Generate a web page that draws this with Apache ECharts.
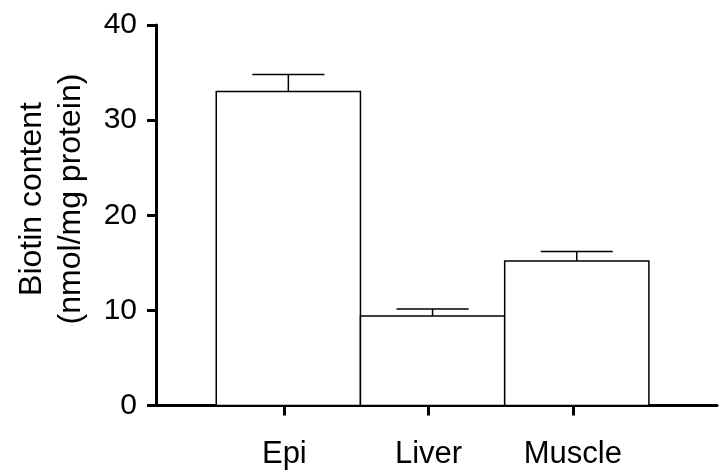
<!DOCTYPE html>
<html>
<head>
<meta charset="utf-8">
<script src="https://cdn.jsdelivr.net/npm/echarts@6/dist/echarts.min.js"></script>
<style>
html,body{margin:0;padding:0;background:#fff;}
#chart{width:719px;height:472px;}
</style>
</head>
<body>
<div id="chart"></div>
<script>
const categories = ['Epi', 'Liver', 'Muscle'];
const means = [33, 9.4, 15.2];
const errors = [1.8, 0.75, 1.0];
const yTicks = [0, 10, 20, 30, 40];
const titleLines = ['Biotin content', '(nmol/mg protein)'];

const positions = categories.map((c, i) => i + 1);
const seriesData = categories.map((c, i) => [positions[i], means[i], errors[i]]);

const FONT = '"Liberation Sans", Arial, Helvetica, sans-serif';
const chart = echarts.init(document.getElementById('chart'), null, {renderer: 'canvas'});

const option = {
  animation: false,
  backgroundColor: '#fff',
  grid: {left: 156, right: 2, top: 25, bottom: 66.5, containLabel: false},
  xAxis: {
    type: 'value',
    min: 0.11,
    max: 4,
    splitLine: {show: false},
    axisLine: {show: true, onZero: false, lineStyle: {color: '#000', width: 3}},
    axisTick: {show: true, customValues: positions, length: 10, lineStyle: {color: '#000', width: 3}},
    axisLabel: {
      show: true,
      customValues: positions,
      margin: 33,
      color: '#000',
      fontFamily: FONT,
      fontSize: 31,
      formatter: v => categories[Math.round(v) - 1] || ''
    }
  },
  yAxis: {
    type: 'value',
    min: yTicks[0],
    max: yTicks[yTicks.length - 1],
    interval: 10,
    splitLine: {show: false},
    axisLine: {show: true, lineStyle: {color: '#000', width: 3}},
    axisTick: {show: true, length: 9, lineStyle: {color: '#000', width: 3}},
    axisLabel: {color: '#000', fontFamily: FONT, fontSize: 30, margin: 19}
  },
  graphic: [{
    type: 'text',
    x: 52,
    y: 199,
    rotation: Math.PI / 2,
    style: {
      text: titleLines.join('\n'),
      fontFamily: FONT,
      fontSize: 32,
      lineHeight: 39,
      fill: '#000',
      align: 'center',
      verticalAlign: 'middle'
    }
  }],
  series: [{
    type: 'custom',
    data: seriesData,
    encode: {x: 0, y: 1},
    renderItem: function (params, api) {
      const x = api.value(0), v = api.value(1), e = api.value(2);
      const base = api.coord([x, 0]);
      const top = api.coord([x, v]);
      const errTop = api.coord([x, v + e]);
      const w = api.size([1, 0])[0];
      const shift = 4;
      const cx = base[0] + shift;
      return {
        type: 'group',
        children: [
          {
            type: 'rect',
            shape: {x: cx - w / 2, y: top[1], width: w, height: base[1] - top[1]},
            style: {fill: '#fff', stroke: '#000', lineWidth: 1.5}
          },
          {
            type: 'line',
            shape: {x1: cx, y1: top[1], x2: cx, y2: errTop[1]},
            style: {stroke: '#000', lineWidth: 1.5}
          },
          {
            type: 'line',
            shape: {x1: cx - w / 4, y1: errTop[1], x2: cx + w / 4, y2: errTop[1]},
            style: {stroke: '#000', lineWidth: 1.5}
          }
        ]
      };
    }
  }]
};
chart.setOption(option);
</script>
</body>
</html>
